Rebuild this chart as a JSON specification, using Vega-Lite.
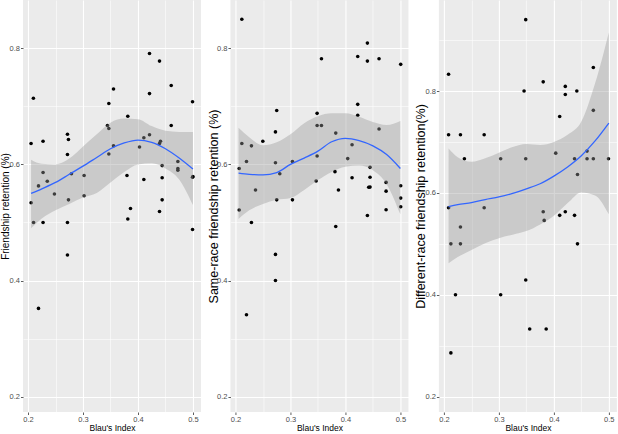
{
  "$schema": "https://vega.github.io/schema/vega-lite/v6.json",
  "padding": {"left": 0, "top": 0, "right": 0, "bottom": 0},
  "spacing": 5.45,
  "config": {
    "view": {"fill": "#EBEBEB", "stroke": null},
    "font": "Liberation Sans",
    "axis": {"domain": false, "grid": true, "gridColor": "#FFFFFF", "tickColor": "#333333", "tickSize": 2.5, "tickWidth": 0.8, "labelColor": "#4D4D4D", "labelFontSize": 7.5, "labelPadding": 1, "titleFontWeight": "normal", "titleColor": "#000000", "labelFont": "Liberation Sans", "titleFont": "Liberation Sans"},
    "axisX": {"titleFontSize": 8.5, "titlePadding": 1, "labelPadding": 0.5},
    "axisY": {"titleBaseline": "middle"}
  },
  "datasets": {
    "pts": [
      {"panel":1,"blau":0.2055,"retention":0.636},{"panel":1,"blau":0.2097,"retention":0.714},{"panel":1,"blau":0.2055,"retention":0.534},{"panel":1,"blau":0.21,"retention":0.5},{"panel":1,"blau":0.219,"retention":0.563},{"panel":1,"blau":0.219,"retention":0.352},{"panel":1,"blau":0.2273,"retention":0.64},{"panel":1,"blau":0.2273,"retention":0.586},{"panel":1,"blau":0.2273,"retention":0.5},{"panel":1,"blau":0.235,"retention":0.571},{"panel":1,"blau":0.248,"retention":0.549},{"panel":1,"blau":0.2717,"retention":0.652},{"panel":1,"blau":0.2735,"retention":0.643},{"panel":1,"blau":0.2717,"retention":0.617},{"panel":1,"blau":0.2735,"retention":0.539},{"panel":1,"blau":0.2717,"retention":0.5},{"panel":1,"blau":0.2717,"retention":0.444},{"panel":1,"blau":0.279,"retention":0.584},{"panel":1,"blau":0.302,"retention":0.581},{"panel":1,"blau":0.302,"retention":0.546},{"panel":1,"blau":0.3445,"retention":0.667},{"panel":1,"blau":0.347,"retention":0.662},{"panel":1,"blau":0.347,"retention":0.705},{"panel":1,"blau":0.347,"retention":0.618},{"panel":1,"blau":0.3555,"retention":0.73},{"panel":1,"blau":0.3555,"retention":0.632},{"panel":1,"blau":0.38,"retention":0.581},{"panel":1,"blau":0.3815,"retention":0.683},{"panel":1,"blau":0.3815,"retention":0.506},{"panel":1,"blau":0.3864,"retention":0.524},{"panel":1,"blau":0.4028,"retention":0.63},{"panel":1,"blau":0.4107,"retention":0.646},{"panel":1,"blau":0.4107,"retention":0.574},{"panel":1,"blau":0.421,"retention":0.791},{"panel":1,"blau":0.421,"retention":0.722},{"panel":1,"blau":0.421,"retention":0.651},{"panel":1,"blau":0.4392,"retention":0.778},{"panel":1,"blau":0.4392,"retention":0.636},{"panel":1,"blau":0.441,"retention":0.64},{"panel":1,"blau":0.4392,"retention":0.519},{"panel":1,"blau":0.444,"retention":0.598},{"panel":1,"blau":0.444,"retention":0.577},{"panel":1,"blau":0.444,"retention":0.539},{"panel":1,"blau":0.4605,"retention":0.736},{"panel":1,"blau":0.4605,"retention":0.667},{"panel":1,"blau":0.4726,"retention":0.605},{"panel":1,"blau":0.4726,"retention":0.593},{"panel":1,"blau":0.4726,"retention":0.59},{"panel":1,"blau":0.4993,"retention":0.708},{"panel":1,"blau":0.4993,"retention":0.578},{"panel":1,"blau":0.5,"retention":0.579},{"panel":1,"blau":0.4993,"retention":0.488},
      {"panel":2,"blau":0.2115,"retention":0.85},{"panel":2,"blau":0.2067,"retention":0.593},{"panel":2,"blau":0.2067,"retention":0.5215},{"panel":2,"blau":0.2115,"retention":0.636},{"panel":2,"blau":0.22,"retention":0.605},{"panel":2,"blau":0.22,"retention":0.341},{"panel":2,"blau":0.229,"retention":0.632},{"panel":2,"blau":0.229,"retention":0.5},{"panel":2,"blau":0.2364,"retention":0.556},{"panel":2,"blau":0.2497,"retention":0.64},{"panel":2,"blau":0.2727,"retention":0.656},{"panel":2,"blau":0.2727,"retention":0.603},{"panel":2,"blau":0.2727,"retention":0.445},{"panel":2,"blau":0.2727,"retention":0.4},{"panel":2,"blau":0.275,"retention":0.693},{"panel":2,"blau":0.275,"retention":0.539},{"panel":2,"blau":0.2806,"retention":0.584},{"panel":2,"blau":0.3036,"retention":0.605},{"panel":2,"blau":0.3036,"retention":0.539},{"panel":2,"blau":0.3485,"retention":0.688},{"panel":2,"blau":0.3485,"retention":0.667},{"panel":2,"blau":0.3485,"retention":0.6146},{"panel":2,"blau":0.3467,"retention":0.5715},{"panel":2,"blau":0.3564,"retention":0.782},{"panel":2,"blau":0.3564,"retention":0.667},{"panel":2,"blau":0.3824,"retention":0.654},{"panel":2,"blau":0.381,"retention":0.5876},{"panel":2,"blau":0.3824,"retention":0.493},{"panel":2,"blau":0.3873,"retention":0.556},{"panel":2,"blau":0.4042,"retention":0.61},{"panel":2,"blau":0.4121,"retention":0.634},{"panel":2,"blau":0.4121,"retention":0.577},{"panel":2,"blau":0.4224,"retention":0.786},{"panel":2,"blau":0.4224,"retention":0.7035},{"panel":2,"blau":0.4224,"retention":0.6846},{"panel":2,"blau":0.44,"retention":0.809},{"panel":2,"blau":0.44,"retention":0.778},{"panel":2,"blau":0.44,"retention":0.512},{"panel":2,"blau":0.4424,"retention":0.5606},{"panel":2,"blau":0.4448,"retention":0.595},{"panel":2,"blau":0.4448,"retention":0.578},{"panel":2,"blau":0.4448,"retention":0.561},{"panel":2,"blau":0.4612,"retention":0.782},{"panel":2,"blau":0.4612,"retention":0.661},{"panel":2,"blau":0.474,"retention":0.569},{"panel":2,"blau":0.474,"retention":0.554},{"panel":2,"blau":0.474,"retention":0.522},{"panel":2,"blau":0.5006,"retention":0.7724},{"panel":2,"blau":0.5006,"retention":0.5634},{"panel":2,"blau":0.5006,"retention":0.542},{"panel":2,"blau":0.5006,"retention":0.527},
      {"panel":3,"blau":0.2084,"retention":0.833},{"panel":3,"blau":0.2084,"retention":0.714},{"panel":3,"blau":0.2084,"retention":0.571},{"panel":3,"blau":0.2126,"retention":0.5},{"panel":3,"blau":0.2126,"retention":0.286},{"panel":3,"blau":0.221,"retention":0.4},{"panel":3,"blau":0.23,"retention":0.714},{"panel":3,"blau":0.23,"retention":0.533},{"panel":3,"blau":0.23,"retention":0.5},{"panel":3,"blau":0.2372,"retention":0.667},{"panel":3,"blau":0.2732,"retention":0.714},{"panel":3,"blau":0.2732,"retention":0.571},{"panel":3,"blau":0.3032,"retention":0.667},{"panel":3,"blau":0.3032,"retention":0.4},{"panel":3,"blau":0.3458,"retention":0.8},{"panel":3,"blau":0.3488,"retention":0.94},{"panel":3,"blau":0.3488,"retention":0.667},{"panel":3,"blau":0.3488,"retention":0.429},{"panel":3,"blau":0.356,"retention":0.333},{"panel":3,"blau":0.3806,"retention":0.818},{"panel":3,"blau":0.3806,"retention":0.563},{"panel":3,"blau":0.3824,"retention":0.546},{"panel":3,"blau":0.386,"retention":0.333},{"panel":3,"blau":0.4034,"retention":0.678},{"panel":3,"blau":0.4106,"retention":0.75},{"panel":3,"blau":0.4106,"retention":0.556},{"panel":3,"blau":0.4208,"retention":0.809},{"panel":3,"blau":0.4208,"retention":0.793},{"panel":3,"blau":0.4208,"retention":0.563},{"panel":3,"blau":0.4376,"retention":0.667},{"panel":3,"blau":0.4376,"retention":0.556},{"panel":3,"blau":0.4418,"retention":0.8},{"panel":3,"blau":0.443,"retention":0.636},{"panel":3,"blau":0.443,"retention":0.5},{"panel":3,"blau":0.4604,"retention":0.682},{"panel":3,"blau":0.4604,"retention":0.667},{"panel":3,"blau":0.4718,"retention":0.846},{"panel":3,"blau":0.4718,"retention":0.762},{"panel":3,"blau":0.4718,"retention":0.667},{"panel":3,"blau":0.4994,"retention":0.667}
    ],
    "smooth": [
      {"panel":1,"blau":0.2055,"fit":0.550,"lower":0.490,"upper":0.608},
      {"panel":1,"blau":0.225,"fit":0.558,"lower":0.507,"upper":0.601},
      {"panel":1,"blau":0.25,"fit":0.569,"lower":0.521,"upper":0.600},
      {"panel":1,"blau":0.275,"fit":0.583,"lower":0.532,"upper":0.610},
      {"panel":1,"blau":0.3,"fit":0.597,"lower":0.543,"upper":0.631},
      {"panel":1,"blau":0.325,"fit":0.612,"lower":0.551,"upper":0.652},
      {"panel":1,"blau":0.35,"fit":0.627,"lower":0.569,"upper":0.672},
      {"panel":1,"blau":0.375,"fit":0.637,"lower":0.587,"upper":0.679},
      {"panel":1,"blau":0.4,"fit":0.642,"lower":0.600,"upper":0.678},
      {"panel":1,"blau":0.425,"fit":0.638,"lower":0.602,"upper":0.666},
      {"panel":1,"blau":0.45,"fit":0.627,"lower":0.593,"upper":0.658},
      {"panel":1,"blau":0.475,"fit":0.611,"lower":0.574,"upper":0.656},
      {"panel":1,"blau":0.5,"fit":0.592,"lower":0.530,"upper":0.656},
      {"panel":2,"blau":0.2055,"fit":0.585,"lower":0.506,"upper":0.663},
      {"panel":2,"blau":0.225,"fit":0.583,"lower":0.521,"upper":0.647},
      {"panel":2,"blau":0.25,"fit":0.582,"lower":0.532,"upper":0.633},
      {"panel":2,"blau":0.275,"fit":0.586,"lower":0.539,"upper":0.638},
      {"panel":2,"blau":0.3,"fit":0.600,"lower":0.542,"upper":0.652},
      {"panel":2,"blau":0.325,"fit":0.611,"lower":0.556,"upper":0.671},
      {"panel":2,"blau":0.35,"fit":0.623,"lower":0.573,"upper":0.683},
      {"panel":2,"blau":0.375,"fit":0.639,"lower":0.587,"upper":0.688},
      {"panel":2,"blau":0.4,"fit":0.645,"lower":0.596,"upper":0.688},
      {"panel":2,"blau":0.425,"fit":0.641,"lower":0.598,"upper":0.682},
      {"panel":2,"blau":0.45,"fit":0.632,"lower":0.590,"upper":0.673},
      {"panel":2,"blau":0.475,"fit":0.617,"lower":0.566,"upper":0.668},
      {"panel":2,"blau":0.5,"fit":0.593,"lower":0.514,"upper":0.675},
      {"panel":3,"blau":0.2084,"fit":0.573,"lower":0.462,"upper":0.687},
      {"panel":3,"blau":0.225,"fit":0.577,"lower":0.474,"upper":0.670},
      {"panel":3,"blau":0.25,"fit":0.581,"lower":0.488,"upper":0.661},
      {"panel":3,"blau":0.275,"fit":0.587,"lower":0.501,"upper":0.668},
      {"panel":3,"blau":0.3,"fit":0.592,"lower":0.511,"upper":0.679},
      {"panel":3,"blau":0.325,"fit":0.599,"lower":0.518,"upper":0.690},
      {"panel":3,"blau":0.35,"fit":0.608,"lower":0.525,"upper":0.696},
      {"panel":3,"blau":0.375,"fit":0.618,"lower":0.538,"upper":0.694},
      {"panel":3,"blau":0.4,"fit":0.633,"lower":0.555,"upper":0.700},
      {"panel":3,"blau":0.425,"fit":0.651,"lower":0.580,"upper":0.714},
      {"panel":3,"blau":0.45,"fit":0.673,"lower":0.601,"upper":0.740},
      {"panel":3,"blau":0.475,"fit":0.702,"lower":0.595,"upper":0.815},
      {"panel":3,"blau":0.5,"fit":0.737,"lower":0.558,"upper":0.915}
    ]
  },
  "hconcat": [
    {
      "width": 178, "height": 412,
      "encoding": {
        "x": {"field": "blau", "type": "quantitative", "scale": {"domain": [0.1908, 0.5147], "nice": false, "zero": false},
          "axis": {"title": "Blau's Index", "values": [0.2, 0.25, 0.3, 0.35, 0.4, 0.45, 0.5], "labelExpr": "abs(datum.value*10-round(datum.value*10))>0.01 ? '' : format(datum.value,'.1f')", "gridWidth": {"condition": {"test": "abs(datum.value*10-round(datum.value*10))>0.01", "value": 0.55}, "value": 1.1}, "tickOpacity": {"condition": {"test": "abs(datum.value*10-round(datum.value*10))>0.01", "value": 0}, "value": 1}}}
      },
      "layer": [
        {"data": {"name": "pts"}, "transform": [{"filter": "datum.panel == 1"}],
         "mark": {"type": "circle", "size": 13, "color": "#000000", "opacity": 1},
         "encoding": {"y": {"field": "retention", "type": "quantitative", "scale": {"domain": [0.1736, 0.8832], "nice": false, "zero": false},
           "axis": {"title": "Friendship retention (%)", "titleFontSize": 10, "titleX": -18, "values": [0.2, 0.3, 0.4, 0.5, 0.6, 0.7, 0.8], "labelExpr": "abs(datum.value*5-round(datum.value*5))>0.01 ? '' : format(datum.value,'.1f')", "gridWidth": {"condition": {"test": "abs(datum.value*5-round(datum.value*5))>0.01", "value": 0.55}, "value": 1.1}, "tickOpacity": {"condition": {"test": "abs(datum.value*5-round(datum.value*5))>0.01", "value": 0}, "value": 1}}}}},
        {"data": {"name": "smooth"}, "transform": [{"filter": "datum.panel == 1"}],
         "mark": {"type": "area", "color": "#999999", "opacity": 0.4, "interpolate": "monotone"},
         "encoding": {"y": {"field": "lower", "type": "quantitative", "scale": {"domain": [0.1736, 0.8832], "nice": false, "zero": false},
           "axis": {"title": "Friendship retention (%)", "titleFontSize": 10, "titleX": -18, "values": [0.2, 0.3, 0.4, 0.5, 0.6, 0.7, 0.8], "labelExpr": "abs(datum.value*5-round(datum.value*5))>0.01 ? '' : format(datum.value,'.1f')", "gridWidth": {"condition": {"test": "abs(datum.value*5-round(datum.value*5))>0.01", "value": 0.55}, "value": 1.1}, "tickOpacity": {"condition": {"test": "abs(datum.value*5-round(datum.value*5))>0.01", "value": 0}, "value": 1}}},
           "y2": {"field": "upper"}}},
        {"data": {"name": "smooth"}, "transform": [{"filter": "datum.panel == 1"}],
         "mark": {"type": "line", "color": "#3366FF", "strokeWidth": 1.3, "interpolate": "monotone"},
         "encoding": {"y": {"field": "fit", "type": "quantitative", "scale": {"domain": [0.1736, 0.8832], "nice": false, "zero": false},
           "axis": {"title": "Friendship retention (%)", "titleFontSize": 10, "titleX": -18, "values": [0.2, 0.3, 0.4, 0.5, 0.6, 0.7, 0.8], "labelExpr": "abs(datum.value*5-round(datum.value*5))>0.01 ? '' : format(datum.value,'.1f')", "gridWidth": {"condition": {"test": "abs(datum.value*5-round(datum.value*5))>0.01", "value": 0.55}, "value": 1.1}, "tickOpacity": {"condition": {"test": "abs(datum.value*5-round(datum.value*5))>0.01", "value": 0}, "value": 1}}}}}
      ]
    },
    {
      "width": 178, "height": 412,
      "encoding": {
        "x": {"field": "blau", "type": "quantitative", "scale": {"domain": [0.1908, 0.5147], "nice": false, "zero": false},
          "axis": {"title": "Blau's Index", "values": [0.2, 0.25, 0.3, 0.35, 0.4, 0.45, 0.5], "labelExpr": "abs(datum.value*10-round(datum.value*10))>0.01 ? '' : format(datum.value,'.1f')", "gridWidth": {"condition": {"test": "abs(datum.value*10-round(datum.value*10))>0.01", "value": 0.55}, "value": 1.1}, "tickOpacity": {"condition": {"test": "abs(datum.value*10-round(datum.value*10))>0.01", "value": 0}, "value": 1}}}
      },
      "layer": [
        {"data": {"name": "pts"}, "transform": [{"filter": "datum.panel == 2"}],
         "mark": {"type": "circle", "size": 13, "color": "#000000", "opacity": 1},
         "encoding": {"y": {"field": "retention", "type": "quantitative", "scale": {"domain": [0.1736, 0.8832], "nice": false, "zero": false},
           "axis": {"title": "Same-race friendship retention (%)", "titleFontSize": 12.5, "titleX": -17.3, "values": [0.2, 0.3, 0.4, 0.5, 0.6, 0.7, 0.8], "labelExpr": "abs(datum.value*5-round(datum.value*5))>0.01 ? '' : format(datum.value,'.1f')", "gridWidth": {"condition": {"test": "abs(datum.value*5-round(datum.value*5))>0.01", "value": 0.55}, "value": 1.1}, "tickOpacity": {"condition": {"test": "abs(datum.value*5-round(datum.value*5))>0.01", "value": 0}, "value": 1}}}}},
        {"data": {"name": "smooth"}, "transform": [{"filter": "datum.panel == 2"}],
         "mark": {"type": "area", "color": "#999999", "opacity": 0.4, "interpolate": "monotone"},
         "encoding": {"y": {"field": "lower", "type": "quantitative", "scale": {"domain": [0.1736, 0.8832], "nice": false, "zero": false},
           "axis": {"title": "Same-race friendship retention (%)", "titleFontSize": 12.5, "titleX": -17.3, "values": [0.2, 0.3, 0.4, 0.5, 0.6, 0.7, 0.8], "labelExpr": "abs(datum.value*5-round(datum.value*5))>0.01 ? '' : format(datum.value,'.1f')", "gridWidth": {"condition": {"test": "abs(datum.value*5-round(datum.value*5))>0.01", "value": 0.55}, "value": 1.1}, "tickOpacity": {"condition": {"test": "abs(datum.value*5-round(datum.value*5))>0.01", "value": 0}, "value": 1}}},
           "y2": {"field": "upper"}}},
        {"data": {"name": "smooth"}, "transform": [{"filter": "datum.panel == 2"}],
         "mark": {"type": "line", "color": "#3366FF", "strokeWidth": 1.3, "interpolate": "monotone"},
         "encoding": {"y": {"field": "fit", "type": "quantitative", "scale": {"domain": [0.1736, 0.8832], "nice": false, "zero": false},
           "axis": {"title": "Same-race friendship retention (%)", "titleFontSize": 12.5, "titleX": -17.3, "values": [0.2, 0.3, 0.4, 0.5, 0.6, 0.7, 0.8], "labelExpr": "abs(datum.value*5-round(datum.value*5))>0.01 ? '' : format(datum.value,'.1f')", "gridWidth": {"condition": {"test": "abs(datum.value*5-round(datum.value*5))>0.01", "value": 0.55}, "value": 1.1}, "tickOpacity": {"condition": {"test": "abs(datum.value*5-round(datum.value*5))>0.01", "value": 0}, "value": 1}}}}}
      ]
    },
    {
      "width": 178, "height": 412,
      "encoding": {
        "x": {"field": "blau", "type": "quantitative", "scale": {"domain": [0.1908, 0.5147], "nice": false, "zero": false},
          "axis": {"title": "Blau's Index", "values": [0.2, 0.25, 0.3, 0.35, 0.4, 0.45, 0.5], "labelExpr": "abs(datum.value*10-round(datum.value*10))>0.01 ? '' : format(datum.value,'.1f')", "gridWidth": {"condition": {"test": "abs(datum.value*10-round(datum.value*10))>0.01", "value": 0.55}, "value": 1.1}, "tickOpacity": {"condition": {"test": "abs(datum.value*10-round(datum.value*10))>0.01", "value": 0}, "value": 1}}}
      },
      "layer": [
        {"data": {"name": "pts"}, "transform": [{"filter": "datum.panel == 3"}],
         "mark": {"type": "circle", "size": 13, "color": "#000000", "opacity": 1},
         "encoding": {"y": {"field": "retention", "type": "quantitative", "scale": {"domain": [0.17, 0.9786], "nice": false, "zero": false},
           "axis": {"title": "Different-race friendship retention(%)", "titleFontSize": 12.5, "titleX": -18.5, "values": [0.2, 0.3, 0.4, 0.5, 0.6, 0.7, 0.8, 0.9], "labelExpr": "abs(datum.value*5-round(datum.value*5))>0.01 ? '' : format(datum.value,'.1f')", "gridWidth": {"condition": {"test": "abs(datum.value*5-round(datum.value*5))>0.01", "value": 0.55}, "value": 1.1}, "tickOpacity": {"condition": {"test": "abs(datum.value*5-round(datum.value*5))>0.01", "value": 0}, "value": 1}}}}},
        {"data": {"name": "smooth"}, "transform": [{"filter": "datum.panel == 3"}],
         "mark": {"type": "area", "color": "#999999", "opacity": 0.4, "interpolate": "monotone"},
         "encoding": {"y": {"field": "lower", "type": "quantitative", "scale": {"domain": [0.17, 0.9786], "nice": false, "zero": false},
           "axis": {"title": "Different-race friendship retention(%)", "titleFontSize": 12.5, "titleX": -18.5, "values": [0.2, 0.3, 0.4, 0.5, 0.6, 0.7, 0.8, 0.9], "labelExpr": "abs(datum.value*5-round(datum.value*5))>0.01 ? '' : format(datum.value,'.1f')", "gridWidth": {"condition": {"test": "abs(datum.value*5-round(datum.value*5))>0.01", "value": 0.55}, "value": 1.1}, "tickOpacity": {"condition": {"test": "abs(datum.value*5-round(datum.value*5))>0.01", "value": 0}, "value": 1}}},
           "y2": {"field": "upper"}}},
        {"data": {"name": "smooth"}, "transform": [{"filter": "datum.panel == 3"}],
         "mark": {"type": "line", "color": "#3366FF", "strokeWidth": 1.3, "interpolate": "monotone"},
         "encoding": {"y": {"field": "fit", "type": "quantitative", "scale": {"domain": [0.17, 0.9786], "nice": false, "zero": false},
           "axis": {"title": "Different-race friendship retention(%)", "titleFontSize": 12.5, "titleX": -18.5, "values": [0.2, 0.3, 0.4, 0.5, 0.6, 0.7, 0.8, 0.9], "labelExpr": "abs(datum.value*5-round(datum.value*5))>0.01 ? '' : format(datum.value,'.1f')", "gridWidth": {"condition": {"test": "abs(datum.value*5-round(datum.value*5))>0.01", "value": 0.55}, "value": 1.1}, "tickOpacity": {"condition": {"test": "abs(datum.value*5-round(datum.value*5))>0.01", "value": 0}, "value": 1}}}}}
      ]
    }
  ]
}
